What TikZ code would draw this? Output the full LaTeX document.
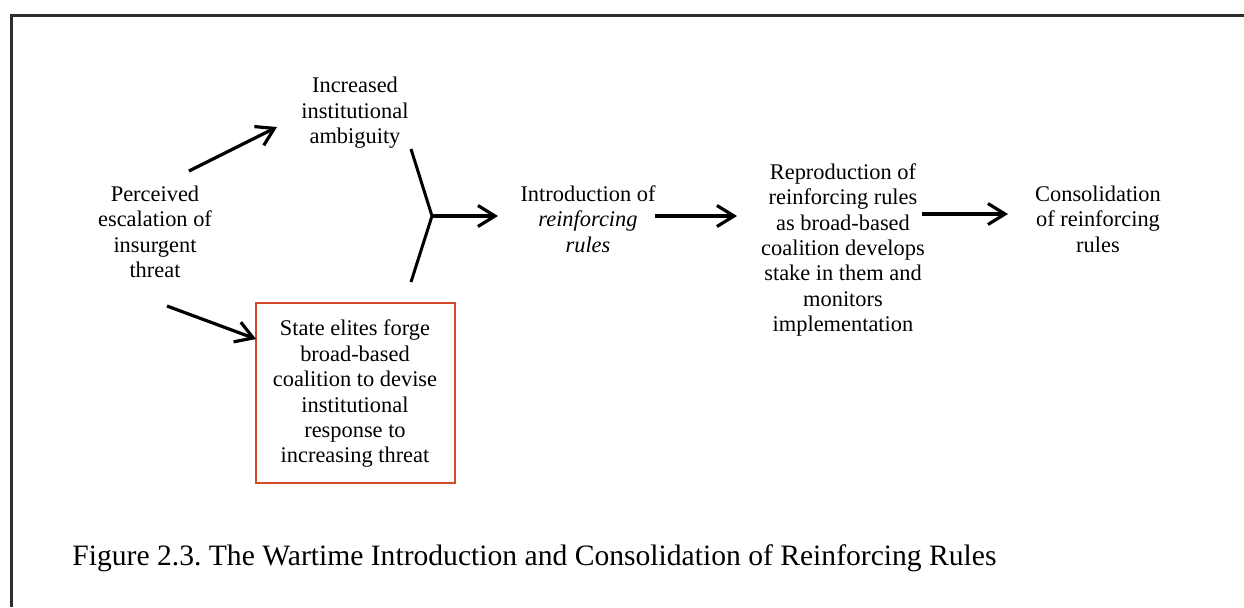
\documentclass[tikz,border=0pt]{standalone}
\usepackage{fontspec}
\setmainfont{Liberation Serif}
\newfontfamily\tnr{Liberation Serif}
\frenchspacing
\usetikzlibrary{arrows.meta}
\definecolor{boxred}{RGB}{214,74,44}
\definecolor{frame}{RGB}{45,45,45}
\tikzset{
  lbl/.style={align=center, inner sep=0pt, font=\tnr\fontsize{11.2pt}{12.7pt}\selectfont},
  arr/.style={line width=1.6pt, -{Straight Barb[length=8.5pt,width=10.5pt,line width=1.6pt]}},
  ln/.style={line width=1.5pt},
  redbox/.style={draw=boxred, line width=1pt, minimum width=99.5pt, minimum height=90pt, inner sep=0pt}
}
\begin{document}
\begin{tikzpicture}[x=0.5pt,y=-0.5pt]
\useasboundingbox (0,0) rectangle (1244,607);
\fill[white] (0,0) rectangle (1244,607);
\draw[frame, line width=1.5pt] (1244,15) -- (11,15) -- (11,607);

\node[lbl] (amb) at (355,113) {Increased\\institutional\\ambiguity};
\node[lbl] (perc) at (155,232) {Perceived\\escalation of\\insurgent\\threat};
\node[redbox] (box) at (355.5,393) {};
\node[lbl] (boxtxt) at (355,394) {State elites forge\\broad-based\\coalition to devise\\institutional\\response to\\increasing threat};
\node[lbl] (intro) at (588,219) {Introduction of\\\textit{reinforcing}\\\textit{rules}};
\node[lbl] (repro) at (843,250) {Reproduction of\\reinforcing rules\\as broad-based\\coalition develops\\stake in them and\\monitors\\implementation};
\node[lbl] (cons) at (1098,219) {Consolidation\\of reinforcing\\rules};
\node[anchor=base west, inner sep=0pt, font=\tnr\fontsize{14.8pt}{17pt}\selectfont] (cap) at (72,565) {Figure 2.3. The Wartime Introduction and Consolidation of Reinforcing Rules};

\coordinate (a1s) at (189,171);
\coordinate (a1e) at (277,127);
\coordinate (a2s) at (167,306);
\coordinate (a2e) at (256,339);
\coordinate (yu) at (411,149);
\coordinate (yj) at (432,216);
\coordinate (yl) at (411,282);
\coordinate (a3e) at (498,216);
\coordinate (a4s) at (655,216);
\coordinate (a4e) at (737,216);
\coordinate (a5s) at (922,214);
\coordinate (a5e) at (1008,214);

\draw[arr] (a1s) -- (a1e);
\draw[arr] (a2s) -- (a2e);
\draw[ln] (yu) -- (yj) -- (yl);
\draw[arr] (yj) -- (a3e);
\draw[arr] (a4s) -- (a4e);
\draw[arr] (a5s) -- (a5e);
\end{tikzpicture}
\end{document}
